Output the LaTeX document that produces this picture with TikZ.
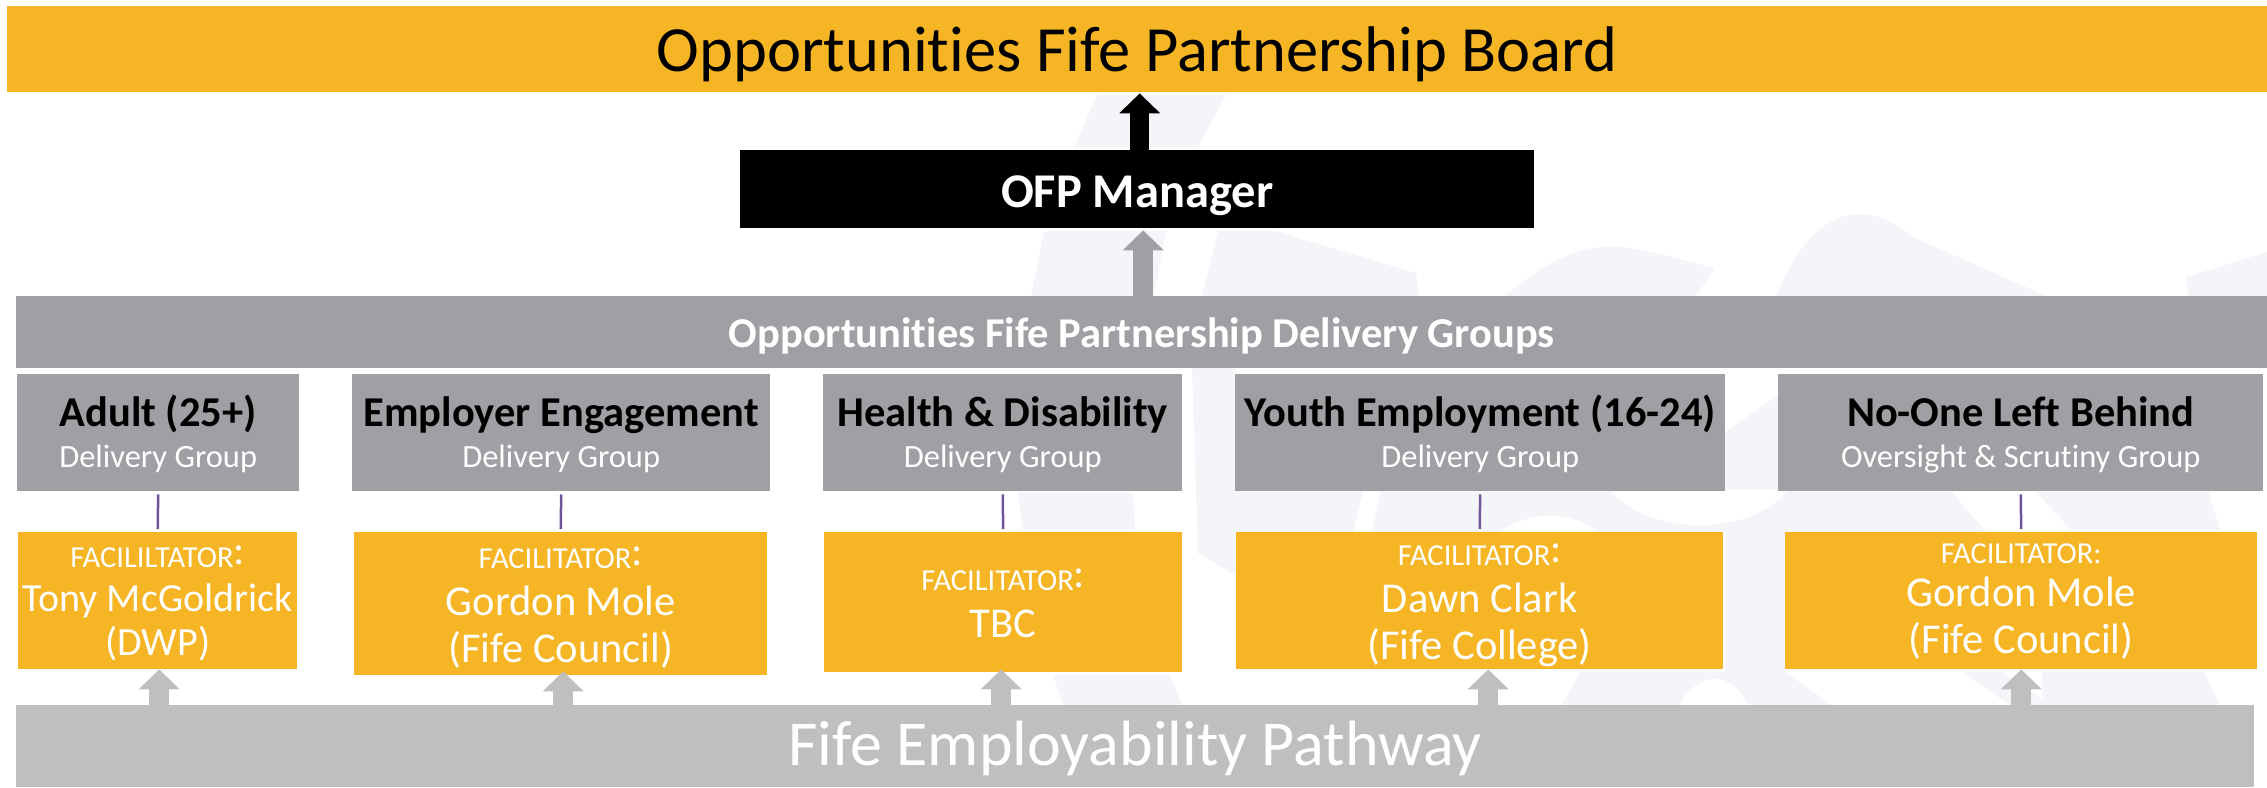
\documentclass[tikz,border=0pt]{standalone}
\usepackage{fontspec}
\setmainfont{Carlito}[Ligatures=NoCommon]
\usetikzlibrary{arrows.meta}
\definecolor{OFPGold}{RGB}{245,181,36}
\definecolor{OFPGrey}{RGB}{159,160,164}
\definecolor{OFPLight}{RGB}{191,191,191}
\definecolor{OFPLine}{RGB}{110,86,152}
\definecolor{OFPMark}{RGB}{245,244,249}

\begin{document}
\begin{tikzpicture}[x=1pt,y=-1pt]
	\tikzset{
		ofpbar/.style={
			shape=rectangle,
			anchor=north west,
			inner sep=0pt,
			align=center,
			text depth=0pt
		},
		groupbox/.style={
			ofpbar,
			fill=OFPGrey,
			text=white,
			minimum height=117pt,
			text height=69pt,
			font=\fontsize{32.5}{40.5}\selectfont
		},
		facbox/.style={
			ofpbar,
			fill=OFPGold,
			text=white,
			font=\fontsize{42.5}{47}\selectfont
		},
		facline/.style={draw=OFPLine, line width=2.5pt, shorten <=3pt, shorten >=3pt},
		blockup/.style={line width=20pt, -{Triangle[width=40pt,length=20pt]}},
		pathup/.style={blockup, draw=OFPLight}
	}
	\newcommand{\grouptitle}[1]{{\fontsize{42.5}{46}\selectfont\bfseries\textcolor{black}{#1}}}
	\newcommand{\factitle}[1]{{\fontsize{30.5}{32}\selectfont #1}}
	\newcommand{\bigcolon}{\raisebox{3pt}{\fontsize{42}{42}\selectfont:}}

	\useasboundingbox (0,0) rectangle (2267,787);

	% faint mark behind the boxes
	\fill[OFPMark] (1074,147) -- (1097,95) -- (1226,95) -- (1198,147) -- cycle;
	\fill[OFPMark] (1031,296) -- (1044,231) -- (1166,231) -- (1154,296) -- cycle;
	\fill[OFPMark] (1202,296) -- (1218,231) -- (1275,231) -- (1416,273) -- (1419,296) -- cycle;
	\fill[OFPMark] (1505,296) .. controls (1590,225) and (1620,245) .. (1715,268) -- (1696,296) -- cycle;
	\fill[OFPMark] (1776,296) .. controls (1815,200) and (1870,200) .. (1913,237) -- (2046,296) -- cycle;
	\fill[OFPMark] (2188,296) -- (2186,277) -- (2267,252) -- (2267,296) -- cycle;
	\fill[OFPMark] (1018,493) -- (1133,493) -- (1135,530) -- (1023,530) -- cycle;
	\fill[OFPMark] (1192,365) -- (1235,365) -- (1235,575) -- (1198,553) -- cycle;
	\fill[OFPMark] (1235,490) -- (1364,490) -- (1353,532) -- (1235,532) -- cycle;
	\fill[OFPMark] (1381,490) -- (1950,490) -- (1986,532) -- (1372,532) -- cycle;
	\fill[OFPMark] (1725,432) -- (1778,395) -- (1785,532) -- (1785,672) -- (1725,672) -- cycle;
	\fill[OFPMark] (2034,490) -- (2208,490) -- (2220,530) -- (2071,530) -- cycle;
	\fill[white] (1610,490) .. controls (1650,537) and (1750,537) .. (1788,490) -- cycle;
	\fill[white] (1500,532) .. controls (1530,510) and (1570,510) .. (1598,532) -- cycle;
	\fill[OFPMark] (1053,675) -- (1170,675) -- (1182,705) -- (1063,705) -- cycle;
	\fill[OFPMark] (1580,672) -- (1785,672) -- (1832,705) -- (1562,705) -- cycle;
	\fill[white] (1679,705) .. controls (1700,670) and (1730,670) .. (1748,705) -- cycle;
	\fill[OFPMark] (1962,672) -- (2002,672) -- (2050,705) -- (2010,705) -- cycle;
	\fill[OFPMark] (2042,672) -- (2204,672) -- (2220,705) -- (2042,705) -- cycle;

	% top of the chart
	\node[ofpbar, fill=OFPGold, minimum width=2260pt, minimum height=86pt, text height=44pt,
		font=\fontsize{64.5}{70}\selectfont] (board) at (7,6) {Opportunities Fife Partnership Board};
	\node[ofpbar, fill=black, text=white, minimum width=794pt, minimum height=78pt, text height=36pt,
		font=\fontsize{48.5}{50}\selectfont\bfseries] (manager) at (740,150) {OFP Manager};
	\node[ofpbar, fill=OFPGrey, text=white, minimum width=2251pt, minimum height=72pt, text height=30pt,
		font=\fontsize{42.5}{46}\selectfont\bfseries] (delivery) at (16,296) {Opportunities Fife Partnership Delivery Groups};
	\node[ofpbar, fill=OFPLight, text=white, minimum width=2238pt, minimum height=82pt, text height=38pt,
		font=\fontsize{64}{70}\selectfont] (pathway) at (16,705) {Fife Employability Pathway};

	% delivery groups
	\node[groupbox, minimum width=282pt] (adultgroup) at (17,374)
		{\grouptitle{Adult (25+)}\\Delivery Group};
	\node[groupbox, minimum width=418pt] (employergroup) at (352,374)
		{\grouptitle{Employer Engagement}\\Delivery Group};
	\node[groupbox, minimum width=359pt] (healthgroup) at (823,374)
		{\grouptitle{Health \& Disability}\\Delivery Group};
	\node[groupbox, minimum width=490pt] (youthgroup) at (1235,374)
		{\grouptitle{Youth Employment (16-24)}\\Delivery Group};
	\node[groupbox, minimum width=485pt] (noonegroup) at (1778,374)
		{\grouptitle{No-One Left Behind}\\Oversight \& Scrutiny Group};

	% facilitators
	\node[facbox, minimum width=279pt, minimum height=137pt, text height=109pt,
		font=\fontsize{40}{44}\selectfont] (adultfac) at (18,532)
		{\factitle{FACILILTATOR\bigcolon}\\Tony McGoldrick\\(DWP)};
	\node[facbox, minimum width=413pt, minimum height=143pt, text height=117pt] (employerfac) at (354,532)
		{\factitle{FACILITATOR\bigcolon}\\Gordon Mole\\(Fife Council)};
	\node[facbox, minimum width=358pt, minimum height=140pt, text height=70pt] (healthfac) at (824,532)
		{\factitle{FACILITATOR\bigcolon}\\TBC};
	\node[facbox, minimum width=487pt, minimum height=137pt, text height=117pt] (youthfac) at (1236,532)
		{\factitle{FACILITATOR\bigcolon}\\Dawn Clark\\(Fife College)};
	\node[facbox, minimum width=472pt, minimum height=137pt, text height=105pt] (noonefac) at (1785,532)
		{\factitle{FACILITATOR:}\\[-4pt]Gordon Mole\\(Fife Council)};

	% connectors
	\foreach \name in {adult,employer,health,youth,noone}
		\draw[facline] (\name group.south) -- (\name fac.north);

	\draw[blockup, draw=black, line width=19pt, shorten >=1pt]
		([xshift=2.5pt]board.south |- manager.north) -- ([xshift=2.5pt]board.south);
	\draw[blockup, draw=OFPGrey, shorten >=2pt]
		([xshift=6pt]manager.south |- delivery.north) -- ([xshift=6pt]manager.south);

	\foreach \name/\off/\back in {adult/1.5/0,employer/2.5/-4,health/-2/-3,youth/8.5/0,noone/0/0}
		\draw[pathup, shorten >=\back pt] ([xshift=\off pt]\name fac.south |- pathway.north) -- ([xshift=\off pt]\name fac.south);
\end{tikzpicture}
\end{document}
